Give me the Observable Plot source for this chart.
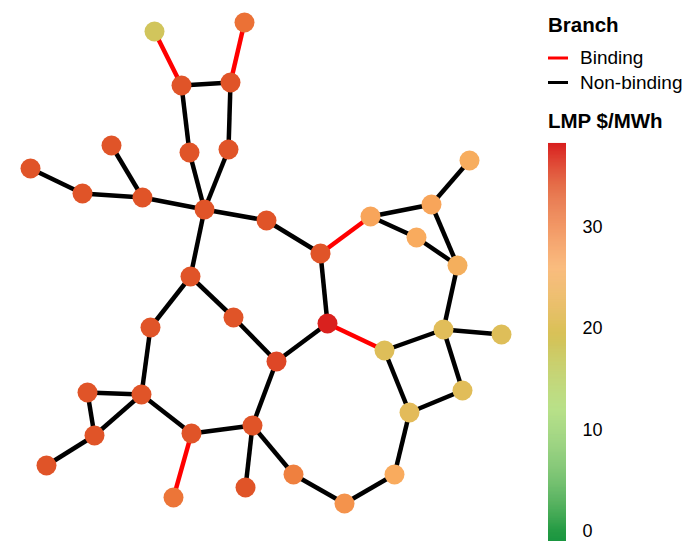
<!DOCTYPE html>
<html>
<head>
<meta charset="utf-8">
<script src="https://cdn.jsdelivr.net/npm/d3@7"></script>
<script src="https://cdn.jsdelivr.net/npm/@observablehq/plot@0.6"></script>
<style>
  html, body { margin: 0; padding: 0; background: #fff; }
  #wrap { position: relative; width: 698px; height: 553px; font-family: "Liberation Sans", Arial, sans-serif; }
  #main { position: absolute; left: 0; top: 0; }
  #legend { position: absolute; left: 548px; top: 0; width: 150px; height: 553px; }
  #bar { position: absolute; left: 0; top: 133px; }
  #keys { position: absolute; left: 0; top: 0; }
</style>
</head>
<body>
<div id="wrap">
  <div id="main"></div>
  <div id="legend">
    <svg id="keys" width="150" height="135"></svg>
    <div id="bar"></div>
  </div>
</div>
<script>
// Bus layout coordinates and LMP values ($/MWh)
const busIds = [1,2,3,4,5,6,7,8,9,10,11,12,13,14,15,16,17,18,19,20,21,22,23,24,25,26,27,28,29,30,31,32,33,34,35,36,37,38,39];
const busX   = [154,244,181,230,189,228,111,30,82,142,204,266,320,370,431,469,416,457,327,384,443,501,462,409,394,344,293,252,245,191,173,141,87,94,46,150,190,233,276];
const busY   = [31,22,85,82,152,149,145,168,193,197,209,220,253,216,204,160,237,265,323,350,329,334,390,412,474,503,474,425,487,433,497,394,392,435,465,327,276,317,361];
const busLMP = [18.3,31,34,34,34,34,34,34,34,34,34,34,34,26.5,26.5,25.5,26,25,38,20.5,21,20.5,21,21.5,26,28,29.5,34,34,34,30.5,34,34,34,34,34,34,34,35];

// Branches: from bus, to bus, binding flag
const branchFrom = [1,2,3,3,4,5,6,8,9,7,10,11,11,12,13,13,14,14,15,15,17,18,19,19,20,20,21,21,23,24,25,26,27,28,28,28,30,30,32,32,33,34,32,36,37,38];
const branchTo   = [3,4,4,5,6,11,11,9,10,10,11,12,37,13,14,19,15,17,16,18,18,21,20,39,21,24,22,23,24,25,26,27,28,29,30,39,31,32,33,34,34,35,36,37,38,39];
const branchBinding = [1,1,0,0,0,0,0,0,0,0,0,0,0,0,1,0,0,0,0,0,0,0,1,0,0,0,0,0,0,0,0,0,0,0,0,0,1,0,0,0,0,0,0,0,0,0];

// Color scheme for LMP (stops)
const lmpDomain = [-1, 12, 20, 26, 30, 34, 38.2];
const lmpColors = ["#1a9641", "#a6d96a", "#dcc058", "#f9ab5e", "#ee7a3a", "#e05428", "#d91e1e"];
const lmpTicks = [0, 10, 20, 30];

// Legend labels
const branchLegendTitle = "Branch";
const branchLegendLabels = ["Binding", "Non-binding"];
const branchLegendColors = ["#ff0000", "#000000"];
const lmpLegendTitle = "LMP $/MWh";

const buses = busIds.map((id, i) => ({id, x: busX[i], y: busY[i], lmp: busLMP[i]}));
const byId = new Map(buses.map(b => [b.id, b]));
const branches = branchFrom.map((f, i) => ({
  a: byId.get(f), b: byId.get(branchTo[i]), binding: branchBinding[i] === 1
}));
branches.sort((p, q) => (p.binding ? 1 : 0) - (q.binding ? 1 : 0));

const colorOpts = {type: "linear", domain: lmpDomain, range: lmpColors, interpolate: "rgb"};

const main = Plot.plot({
  width: 698, height: 553,
  margin: 0,
  x: {domain: [0, 698], range: [0, 698], axis: null},
  y: {domain: [0, 553], range: [0, 553], axis: null},
  color: colorOpts,
  marks: [
    Plot.link(branches, {
      x1: d => d.a.x, y1: d => d.a.y, x2: d => d.b.x, y2: d => d.b.y,
      stroke: d => d.binding ? "#ff0000" : "#000000",
      strokeWidth: 4.5, strokeLinecap: "butt"
    }),
    Plot.dot(buses, {x: "x", y: "y", r: 10, fill: "lmp", stroke: "none"})
  ]
});
document.getElementById("main").appendChild(main);

// Branch legend + colorbar title
const keys = d3.select("#keys").style("font-family", "Liberation Sans, Arial, sans-serif");
keys.append("text").attr("x", 0).attr("y", 32).attr("font-size", 20.5).attr("font-weight", "bold").text(branchLegendTitle);
branchLegendLabels.forEach((lab, i) => {
  const yb = 64 + i * 24.5;
  keys.append("line").attr("x1", 0).attr("x2", 20).attr("y1", yb - 6).attr("y2", yb - 6)
    .attr("stroke", branchLegendColors[i]).attr("stroke-width", 3);
  keys.append("text").attr("x", 32).attr("y", yb).attr("font-size", 19).text(lab);
});
keys.append("text").attr("x", 0).attr("y", 128).attr("font-size", 20.5).attr("font-weight", "bold").text(lmpLegendTitle);

// Vertical color bar
const barMin = lmpDomain[0], barMax = lmpDomain[lmpDomain.length - 1];
const nSteps = 400;
const stepSize = (barMax - barMin) / nSteps;
const steps = d3.range(nSteps).map(i => barMin + stepSize * i);
const bar = Plot.plot({
  width: 70, height: 418,
  marginTop: 10, marginBottom: 10, marginLeft: 0, marginRight: 52,
  x: {domain: [0, 1], axis: null},
  y: {domain: [barMin, barMax], axis: "right", ticks: lmpTicks, tickSize: 0, tickPadding: 16, label: null, tickFormat: d => d},
  color: colorOpts,
  style: {fontSize: "18px", fontFamily: "Liberation Sans, Arial, sans-serif", color: "#000", overflow: "visible"},
  marks: [
    Plot.rect(steps, {x1: 0, x2: 1, y1: d => d, y2: d => d + stepSize * 1.05, fill: d => d + stepSize / 2, stroke: "none"})
  ]
});
document.getElementById("bar").appendChild(bar);
</script>
</body>
</html>
